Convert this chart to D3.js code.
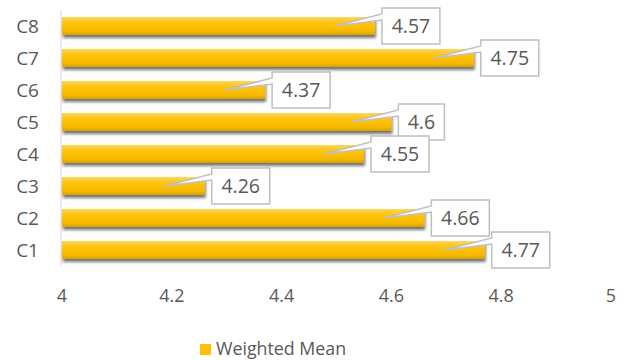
<!DOCTYPE html>
<html><head><meta charset="utf-8">
<script src="https://cdn.jsdelivr.net/npm/d3@7"></script>
<style>body{margin:0;background:#fff}svg{display:block}</style>
</head><body>
<svg id="c" width="625" height="360"></svg>
<script>
const categories = ["C8","C7","C6","C5","C4","C3","C2","C1"];
const values = [4.57,4.75,4.37,4.6,4.55,4.26,4.66,4.77];
const labels = ["4.57","4.75","4.37","4.6","4.55","4.26","4.66","4.77"];
const ticks = [4,4.2,4.4,4.6,4.8,5];
const tickLabels = ["4","4.2","4.4","4.6","4.8","5"];
const seriesName = "Weighted Mean";

const svg = d3.select("#c");
const font = "'Open Sans', sans-serif";
const x = d3.scaleLinear().domain([4,5]).range([62,611]);
const y = d3.scaleBand().domain(categories).range([10,266]).paddingInner(0.44).paddingOuter(0.22);

const defs = svg.append("defs");
const g = defs.append("linearGradient").attr("id","bg").attr("x1",0).attr("y1",0).attr("x2",0).attr("y2",1);
g.append("stop").attr("offset","0%").attr("stop-color","#fbd65a");
g.append("stop").attr("offset","35%").attr("stop-color","#ffc30a");
g.append("stop").attr("offset","80%").attr("stop-color","#f5b800");
g.append("stop").attr("offset","100%").attr("stop-color","#d9a000");
const f = defs.append("filter").attr("id","sh").attr("x","-5%").attr("y","-30%").attr("width","110%").attr("height","180%");
f.append("feDropShadow").attr("dx",1).attr("dy",3).attr("stdDeviation",1.6).attr("flood-color","#000").attr("flood-opacity",0.55);

// axis line
svg.append("line").attr("x1",x(4)-1).attr("x2",x(4)-1).attr("y1",10).attr("y2",266)
  .attr("stroke","#d9d9d9").attr("stroke-width",1);

// bars
svg.append("g").selectAll("rect").data(categories).join("rect")
  .attr("x",x(4)).attr("y",d=>y(d)).attr("height",y.bandwidth())
  .attr("width",(d,i)=>x(values[i])-x(4))
  .attr("fill","url(#bg)").attr("filter","url(#sh)");

// category labels
svg.append("g").selectAll("text").data(categories).join("text")
  .attr("x",39).attr("y",d=>y(d)+y.bandwidth()/2).attr("dy","0.36em")
  .attr("text-anchor","end").attr("font-family",font).attr("font-size",19).attr("fill","#595959")
  .text(d=>d);

// tick labels
svg.append("g").selectAll("text").data(ticks).join("text")
  .attr("x",d=>x(d)).attr("y",296).attr("dy","0.36em").attr("text-anchor","middle")
  .attr("font-family",font).attr("font-size",18).attr("fill","#595959")
  .text((d,i)=>tickLabels[i]);

// callouts
const cg = svg.append("g");
categories.forEach((c,i)=>{
  const v = values[i];
  const cy = y(c)+y.bandwidth()/2;
  const bx = x(v)+7;
  const t = cg.append("text").attr("font-family",font).attr("font-size",19.5).attr("fill","#595959")
    .attr("text-anchor","middle").text(labels[i]);
  const tw = t.node().getComputedTextLength();
  const bw = Math.round(tw+19), bh = 36;
  const by = cy - bh/2;
  const tipx = x(v)-40, tipy = cy;
  const p = `M${bx},${by} L${bx+bw},${by} L${bx+bw},${by+bh} L${bx},${by+bh} L${bx},${by+12} L${tipx},${tipy} L${bx},${by+6} Z`;
  cg.insert("path","text").attr("d",p).attr("fill","#fff").attr("stroke","#bfbfbf").attr("stroke-width",1.5)
    .attr("stroke-linejoin","miter");
  t.attr("x",bx+bw/2).attr("y",cy).attr("dy","0.36em");
});

// legend
svg.append("rect").attr("x",200).attr("y",344).attr("width",11).attr("height",11).attr("fill","#ffc000");
svg.append("text").attr("x",216).attr("y",349).attr("dy","0.36em").attr("font-family",font)
  .attr("font-size",17.8).attr("fill","#595959").text(seriesName);
</script>
</body></html>
